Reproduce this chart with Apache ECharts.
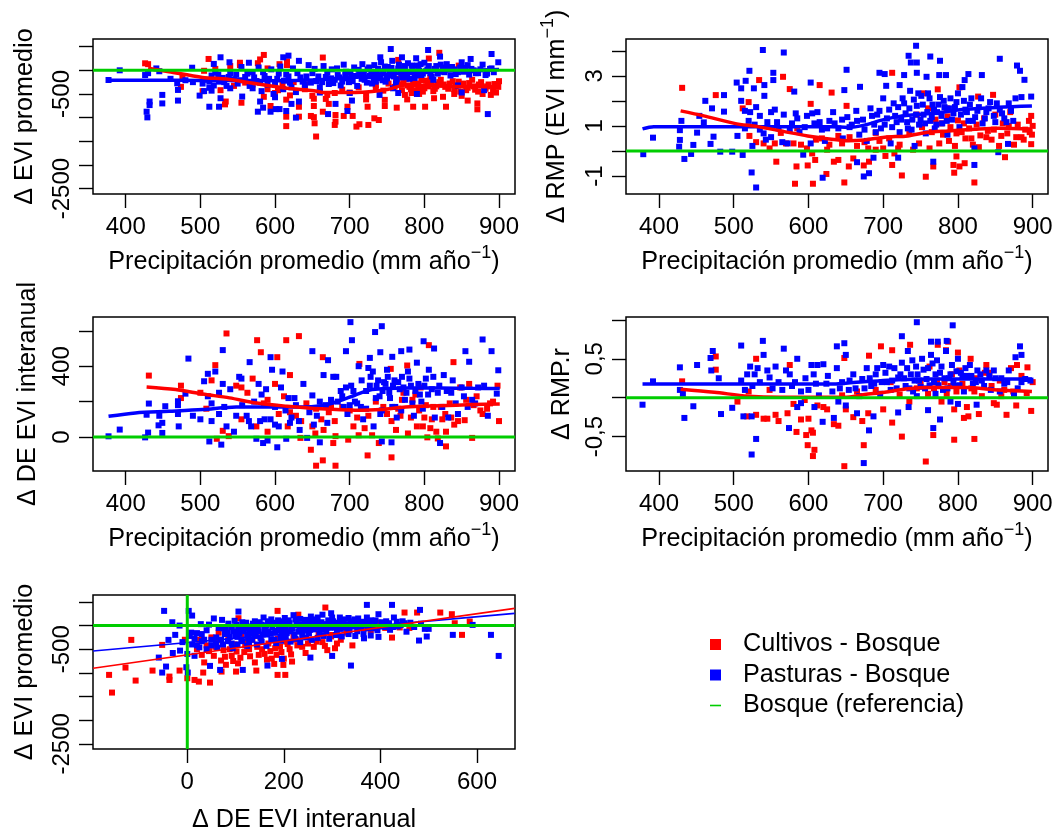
<!DOCTYPE html>
<html>
<head>
<meta charset="utf-8">
<style>html,body{margin:0;padding:0;background:#fff}#chart{width:1055px;height:828px}</style>
<script src="https://cdn.jsdelivr.net/npm/echarts@6/dist/echarts.min.js"></script>
</head>
<body>
<div id="chart"></div>
<script>
// panel 1: delta EVI promedio vs precipitacion
var eviPrecipRed = [[426,148],[430,130],[511,240],[553,160],[553,110],[585,325],[580,230],[577,150],[616,110],[606,130],[664,270],[820,370],[806,250],[765,220],[846,100],[616,190],[590,40],[540,90],[520,30],[505,-10],[474,-350],[476,-120],[503,-440],[527,-420],[545,-330],[570,-300],[590,-400],[585,-560],[600,-480],[604,-420],[615,-620],[620,-530],[640,-400],[650,-540],[652,-600],[660,-450],[670,-520],[680,-480],[690,-410],[700,-470],[712,-360],[722,-500],[735,-380],[615,-980],[615,-1180],[655,-1400],[653,-1120],[648,-965],[652,-990],[681,-945],[681,-1085],[680,-1155],[692,-965],[704,-965],[697,-770],[713,-1140],[709,-1190],[725,-1155],[733,-1015],[739,-1050],[724,-770],[747,-755],[763,-790],[785,-770],[801,-770],[829,-770],[871,-700],[871,-825],[858,-640],[664,-875],[672,-710],[668,-605],[652,-755],[632,-770],[632,-980],[594,-755],[555,-685],[534,-660],[533,-720],[722,-615],[747,-625],[777,-615],[813,-590],[825,-560],[840,-500],[850,-540],[762,-240],[768,-300],[775,-180],[780,-350],[785,-260],[788,-420],[792,-330],[796,-210],[800,-380],[804,-290],[808,-160],[812,-440],[816,-340],[820,-250],[826,-300],[832,-390],[838,-230],[842,-330],[848,-450],[852,-280],[858,-370],[864,-200],[868,-410],[873,-300],[878,-500],[884,-340],[889,-520],[894,-290],[896,-470],[899,-350],[900,-230],[760,-350],[770,-420],[774,-520],[783,-480],[793,-500],[752,-280],[745,-430],[735,-310],[610,-300],[625,-250],[640,-300],[575,-230],[560,-260],[764,-180],[772,-270],[778,-320],[782,-400],[786,-210],[790,-280],[794,-380],[798,-450],[802,-220],[806,-340],[810,-260],[814,-390],[818,-300],[822,-200],[828,-350],[834,-280],[840,-400],[846,-240],[850,-310],[856,-420],[860,-270],[866,-340],[872,-450],[876,-250],[882,-390],[886,-300],[892,-410],[898,-290]];
var eviPrecipBlue = [[428,-875],[429,-995],[432,-660],[432,-735],[449,-700],[449,-520],[377,-205],[392,0],[426,-100],[430,-60],[441,40],[445,-20],[470,-415],[470,-640],[469,-275],[489,55],[499,-535],[512,-770],[525,-770],[527,-590],[527,275],[518,135],[539,170],[565,160],[556,-555],[577,-875],[580,-660],[584,-790],[594,-875],[601,-820],[606,-820],[615,-860],[628,-1000],[622,-710],[632,-660],[618,310],[611,275],[632,200],[671,-925],[681,-710],[697,-860],[703,-640],[755,450],[805,430],[770,275],[741,275],[789,255],[821,290],[890,345],[899,170],[862,240],[885,-925],[845,-320],[460,-180],[480,-210],[490,-250],[503,-280],[510,-200],[512,-370],[515,-110],[520,-50],[525,-240],[530,-160],[535,-330],[540,-60],[545,-190],[550,-280],[555,70],[560,-140],[566,-330],[570,-40],[575,-230],[578,60],[582,-440],[586,-120],[590,-300],[595,20],[598,-500],[603,-180],[607,80],[611,-400],[615,-90],[620,-260],[624,40],[628,-460],[634,-150],[640,-310],[645,110],[650,-60],[655,-230],[660,-360],[665,90],[668,-140],[672,-290],[676,20],[680,-200],[684,-100],[688,-320],[692,120],[695,-30],[699,-250],[702,-150],[706,60],[710,-330],[714,-70],[717,130],[720,-200],[724,20],[727,-120],[730,-280],[733,110],[736,-50],[739,-170],[742,170],[745,-20],[748,-240],[751,70],[754,-110],[757,200],[760,-30],[763,-190],[766,120],[769,-70],[772,10],[775,-140],[778,150],[781,-40],[784,40],[787,-160],[790,100],[793,-10],[796,-100],[800,160],[804,20],[808,-60],[812,-200],[816,90],[820,-30],[825,60],[830,130],[835,-110],[840,20],[845,-40],[850,170],[855,50],[860,-90],[866,0],[872,-60],[878,120],[882,-100],[888,30],[893,-40],[758,-380],[740,-520],[765,-480],[790,-500],[850,-470],[880,-420],[660,-470],[700,-480],[540,-380],[505,-440],[515,-430],[570,-380],[600,-570],[512,-240],[518,-320],[524,-90],[532,-250],[538,-140],[548,-90],[553,-210],[563,-70],[572,-150],[580,-260],[584,-40],[592,-180],[600,-310],[605,-70],[612,-220],[618,-130],[622,-360],[630,-60],[637,-240],[642,-130],[648,-260],[653,30],[658,-130],[663,-250],[670,-50],[675,-170],[678,-270],[683,40],[686,-150],[690,-240],[694,-90],[697,-170],[701,-40],[704,-230],[708,-120],[712,10],[716,-180],[719,-60],[723,-260],[726,60],[729,-30],[732,-170],[735,-240],[738,30],[741,-100],[744,-210],[747,80],[750,-170],[753,-40],[756,50],[759,-130],[762,-280],[765,40],[768,-20],[771,-150],[774,90],[777,-60],[780,-180],[783,100],[786,-30],[789,-110],[792,20],[795,130],[798,-70],[802,-20],[806,90],[810,-130],[814,30],[818,-70],[822,120],[827,-40],[832,20],[837,70],[842,-80],[848,60],[853,-30],[858,110],[863,30],[869,-60],[875,20],[884,-70],[890,40]];
var eviPrecipBlueLine = [[377,-210],[450,-210],[500,-215],[550,-215],[600,-220],[650,-205],[700,-150],[750,-90],[800,-30],[850,-5],[900,15]];
var eviPrecipRedLine = [[430,45],[458,-30],[503,-150],[535,-185],[571,-275],[616,-380],[652,-430],[665,-470],[707,-470],[730,-450],[752,-400],[775,-310],[820,-330],[865,-345],[901,-345]];

// panel 2: delta RMP vs precipitacion
var rmpPrecipRed = [[431,2.52],[476,2.23],[534,2.83],[566,2.96],[575,2.47],[615,2.63],[603,1.88],[651,1.8],[631,2.33],[712,3.12],[754,2.3],[773,2.46],[802,2.54],[827,2.17],[847,2.24],[582,-1.31],[606,-1.31],[648,-1.26],[725,-.98],[757,-1.03],[795,-.87],[822,-1.26],[624,-.92],[584,-.62],[599,-.58],[557,-.43],[609,-.36],[634,-.43],[640,-.36],[654,-.62],[674,-.58],[681,-.43],[703,-.2],[712,-.56],[767,-.62],[794,-.56],[802,-.62],[809,-.49],[798,-.22],[863,-.25],[898,.27],[512,1.7],[520,1.95],[521,.6],[530,.35],[540,.3],[548,.1],[555,.3],[563,.72],[570,.3],[580,.3],[590,.25],[598,.1],[605,-.1],[618,.5],[628,.25],[640,.6],[655,.55],[665,.2],[675,.35],[690,.72],[700,.1],[708,.5],[722,.25],[735,.7],[748,.3],[752,.95],[762,.1],[770,1.25],[775,.3],[780,.65],[786,1.38],[790,.95],[796,.2],[800,1.22],[805,.75],[810,.5],[815,.9],[820,.25],[825,1.05],[830,.62],[835,1.3],[840,.8],[845,.45],[850,1.45],[855,.2],[860,1.1],[866,.7],[870,1.55],[875,.25],[880,1.05],[885,.55],[890,.85],[895,1.2],[899,.65],[898,1.4],[760,1.7],[785,1.7],[745,1.45],[720,.1],[690,.05],[585,.9],[610,.45],[625,.05],[645,.3],[660,-.3],[680,.1],[695,.4],[715,-.1],[740,.05],[765,.75],[778,1.1],[788,.4],[798,.7],[808,1.1],[818,.5],[828,.15],[838,.55],[848,.85],[858,.6],[868,1],[878,.55],[888,.45],[896,.75],[900,1]];
var rmpPrecipBlue = [[539,4.03],[567,3.93],[521,3.2],[553,3.12],[553,2.83],[651,3.24],[744,4.2],[734,3.8],[737,3.53],[745,3.53],[763,3.77],[776,3.6],[856,3.68],[879,3.41],[883,3.2],[889,2.84],[695,3.12],[702,3.07],[728,3.03],[745,3.12],[758,2.96],[775,3.03],[784,3.03],[814,3.07],[832,3.03],[809,2.83],[603,2.73],[648,2.43],[669,2.56],[704,2.6],[722,2.63],[516,2.8],[504,2.73],[510,2.5],[527,2.5],[541,2.63],[581,2.37],[541,2.2],[487,2.23],[462,2],[471,1.7],[487,1.57],[454,1.4],[430,1.2],[428,.83],[428,.44],[427,.17],[434,-.32],[443,-.12],[446,.24],[379,-.13],[392,.53],[451,.73],[460,1.14],[473,.57],[469,.28],[482,-.03],[498,-.03],[512,-.16],[524,-.86],[530,-1.46],[619,-1.07],[681,-.89],[674,-1.02],[665,-.45],[687,-.27],[720,-.27],[767,-.43],[822,-.56],[822,.1],[854,-.05],[867,.28],[898,2.17],[885,2.15],[877,2.1],[505,.6],[510,2],[515,1.6],[520,1.2],[525,.2],[530,1.75],[535,1.4],[540,.7],[545,1.15],[550,.55],[555,1.65],[560,.9],[567,1.45],[572,.3],[578,1.1],[583,1.5],[588,.75],[593,-.15],[598,1.4],[603,.3],[608,1.1],[612,1.55],[618,.85],[622,.4],[628,1.2],[633,1.55],[640,.9],[646,.5],[652,1.35],[658,1.05],[664,1.6],[668,.65],[673,1.25],[678,.4],[683,1.7],[688,1.05],[692,1.45],[697,.9],[700,2.1],[705,1.3],[710,.3],[714,1.9],[718,1.15],[722,.75],[726,2.1],[730,1.5],[733,.9],[736,2.4],[739,1.25],[742,.2],[745,1.8],[748,1.05],[751,2.2],[754,1.45],[757,.7],[760,2.3],[763,1.2],[766,1.85],[769,.9],[772,1.55],[776,2.15],[779,1.1],[782,1.75],[786,.65],[790,2.1],[794,1.5],[798,1.95],[802,.95],[806,2.55],[810,1.65],[814,1.2],[818,2.1],[823,1.35],[828,1.75],[833,1.1],[838,1.55],[843,1.95],[850,1.15],[856,1.65],[862,1.3],[868,1.9],[874,1.2],[515,.9],[522,1.55],[528,1.05],[535,.85],[543,.45],[550,1.55],[558,1.15],[565,.35],[575,.85],[585,1.3],[595,.95],[605,1.5],[615,1.15],[625,.9],[635,1.1],[645,1.25],[655,.95],[665,1.2],[675,.85],[685,1.4],[690,.75],[695,1.6],[702,1.05],[708,1.65],[712,.95],[716,1.4],[720,1.75],[724,1.25],[728,1.9],[732,1.15],[735,1.7],[738,.85],[741,2.05],[744,1.45],[747,2.3],[750,1.25],[753,1.85],[756,1.1],[759,1.55],[762,2.1],[765,1.35],[768,1.65],[771,1.05],[774,1.85],[778,1.4],[781,2],[785,1.2],[788,1.7],[792,1.25],[796,1.75],[800,2.3],[804,1.45],[808,2],[812,1.55],[816,1.85],[820,1.2],[826,1.6],[831,2.1],[836,1.3],[841,1.7],[848,1.4],[852,1.9],[859,1.5],[865,1.15],[871,1.6]];
var rmpPrecipBlueLine = [[378,.88],[393,.97],[451,.97],[500,.97],[541,.97],[586,.97],[631,.97],[653,.94],[675,1.03],[698,1.23],[720,1.37],[765,1.5],[810,1.66],[854,1.74],[899,1.79]];
var rmpPrecipRedLine = [[429,1.6],[460,1.4],[501,1.1],[532,.97],[563,.8],[599,.6],[631,.47],[653,.41],[675,.44],[702,.55],[733,.6],[756,.73],[787,.8],[823,.87],[854,.91],[899,.88]];

// panel 3: delta DE EVI interanual vs precipitacion
var dePrecipRed = [[431,347],[535,585],[576,547],[615,547],[632,570],[581,479],[603,451],[520,406],[664,451],[806,519],[713,413],[839,423],[777,404],[755,385],[655,-162],[664,-132],[681,-162],[724,-104],[756,-115],[648,-72],[829,-53],[739,-34],[678,-34],[681,5],[474,290],[474,220],[500,250],[508,160],[515,320],[522,-10],[530,35],[538,5],[548,290],[555,100],[563,250],[570,330],[575,60],[585,190],[590,30],[600,300],[605,130],[612,230],[617,60],[620,350],[628,120],[634,-5],[642,190],[650,60],[654,20],[662,100],[672,140],[680,90],[690,170],[698,-15],[705,60],[712,10],[720,50],[725,120],[735,200],[745,170],[756,90],[762,40],[768,120],[772,250],[778,20],[784,210],[790,60],[795,280],[800,110],[804,-2],[808,50],[812,170],[818,-8],[824,100],[829,30],[834,190],[840,70],[848,280],[854,95],[860,300],[864,-5],[870,230],[878,130],[884,160],[892,200],[898,290],[900,90],[555,280],[590,210],[620,140],[635,90],[655,160],[665,40],[675,170],[700,150],[710,110],[730,10],[750,130],[765,160],[770,210],[782,110],[788,240],[793,150],[798,60],[802,180],[810,100],[816,30],[822,170],[828,130],[836,110],[845,90],[856,210],[866,180],[875,150],[888,190]];
var dePrecipBlue = [[701,649],[743,626],[734,593],[703,547],[799,541],[878,551],[530,491],[650,485],[695,485],[741,479],[769,485],[780,494],[813,500],[855,485],[890,485],[484,443],[566,423],[594,451],[671,434],[727,447],[757,453],[860,425],[899,377],[377,4],[392,42],[426,-2],[431,189],[428,126],[453,174],[470,202],[470,180],[510,357],[505,315],[444,66],[449,80],[449,23],[471,60],[528,-43],[603,-58],[743,-25],[756,-30],[821,-34],[512,-25],[584,-34],[430,25],[445,120],[470,130],[480,245],[490,120],[500,100],[510,230],[515,190],[520,370],[525,130],[530,300],[535,60],[540,270],[545,30],[552,340],[556,180],[562,120],[568,60],[575,-10],[578,300],[582,240],[586,100],[590,-20],[596,380],[600,170],[605,60],[610,370],[615,-10],[618,220],[622,110],[628,180],[633,40],[638,300],[643,-5],[650,235],[656,120],[660,-30],[665,350],[670,80],[675,210],[682,340],[688,260],[692,170],[697,130],[702,290],[707,200],[712,400],[715,170],[718,100],[722,260],[725,390],[728,340],[732,60],[736,290],[740,230],[743,150],[746,310],[750,380],[753,250],[757,170],[760,320],[763,110],[767,270],[770,340],[774,210],[778,370],[782,290],[786,120],[790,420],[794,240],[798,160],[802,330],[806,380],[810,270],[814,110],[820,290],[826,350],[832,110],[838,320],[845,130],[853,230],[858,170],[864,210],[872,280],[880,290],[885,120],[897,245],[515,90],[525,250],[532,170],[548,120],[555,330],[565,90],[572,200],[580,90],[588,270],[594,100],[600,70],[608,280],[614,150],[620,80],[626,220],[632,90],[646,140],[652,70],[660,200],[668,180],[678,340],[684,200],[690,230],[695,280],[700,180],[705,260],[710,190],[716,320],[722,160],[727,290],[731,370],[735,220],[738,320],[741,130],[744,260],[748,300],[751,340],[754,220],[758,290],[761,170],[765,310],[769,150],[772,280],[776,250],[780,330],[784,190],[788,260],[792,300],[796,200],[800,290],[805,240],[812,340],[818,250],[824,170],[830,260],[836,250],[842,190],[850,280],[868,190]];
var dePrecipBlueLine = [[377,117],[413,136],[458,145],[503,155],[548,170],[593,170],[631,170],[662,177],[685,202],[707,236],[730,268],[775,277],[820,277],[865,275],[901,274]];
var dePrecipRedLine = [[428,283],[467,268],[503,243],[539,221],[575,192],[616,174],[661,159],[707,151],[742,155],[775,170],[820,177],[865,183],[901,187]];

// panel 4: delta RMP.r vs precipitacion
var rmprPrecipRed = [[648,-.88],[757,-.82],[606,-.75],[608,-.67],[599,-.61],[674,-.61],[725,-.5],[795,-.54],[822,-.53],[767,-.48],[597,-.48],[604,-.42],[606,-.45],[584,-.44],[640,-.36],[712,-.32],[697,.66],[712,.61],[736,.68],[787,.72],[773,.68],[800,.58],[817,.5],[784,.61],[681,.54],[648,.51],[476,.53],[476,.36],[431,.21],[530,.5],[575,.42],[893,.39],[879,.42],[838,.42],[505,-.05],[520,.08],[518,-.24],[530,-.22],[545,-.27],[560,-.3],[556,-.22],[572,-.2],[590,-.28],[600,-.27],[612,-.1],[625,-.15],[634,-.34],[650,-.15],[660,-.25],[672,-.3],[680,-.2],[700,-.15],[722,.04],[735,-.05],[750,.2],[762,.4],[772,.22],[778,-.05],[785,.05],[790,.15],[795,-.15],[802,.35],[808,-.26],[812,-.12],[818,.12],[824,.25],[828,-.21],[836,.32],[845,.15],[852,-.09],[858,.02],[865,-.22],[871,.38],[878,-.1],[885,.28],[892,.06],[898,-.17],[900,.2],[540,-.27],[548,.1],[710,.2],[760,.05],[580,-.08],[595,-.03],[620,-.12],[645,.03],[665,.08],[690,.1],[745,.12],[768,.12],[782,.2],[792,.3],[798,.08],[806,.18],[814,-.24],[822,.08],[832,.02],[842,.32],[848,-.07],[856,.22],[862,.1],[874,.08]];
var rmprPrecipBlue = [[745,.97],[793,.93],[725,.79],[539,.73],[510,.67],[648,.7],[638,.66],[567,.63],[785,.73],[773,.72],[764,.72],[883,.66],[885,.55],[877,.52],[472,.6],[469,.51],[428,.39],[451,.42],[378,-.09],[392,.21],[434,-.26],[446,-.11],[483,-.21],[498,-.13],[513,-.24],[524,-.24],[530,-.53],[524,-.73],[574,-.39],[619,-.31],[634,-.26],[681,-.42],[674,-.84],[665,-.2],[687,-.24],[720,-.19],[734,-.12],[760,-.16],[767,-.39],[776,-.28],[428,.1],[432,.05],[470,.35],[480,.25],[510,.22],[515,.1],[522,.4],[528,.3],[535,.2],[540,.55],[545,.35],[552,.12],[556,.4],[565,.1],[570,.35],[578,.15],[585,.5],[590,.08],[596,.25],[604,.42],[610,.18],[614,.03],[620,.43],[626,.28],[632,.08],[638,.38],[645,.2],[650,.55],[654,.1],[660,.3],[668,.02],[672,.24],[678,.38],[684,.15],[690,.3],[696,.05],[700,.42],[705,.2],[710,.1],[715,.38],[720,.26],[725,.45],[730,.15],[733,.6],[737,.3],[740,.08],[744,.4],[748,.22],[752,.5],[756,.12],[760,.38],[764,.55],[768,.2],[772,.48],[776,.32],[780,.1],[784,.6],[788,.25],[792,.42],[796,.15],[800,.5],[804,.32],[808,.08],[812,.28],[816,.42],[820,.18],[826,.35],[832,.22],[838,.35],[844,.1],[850,.25],[856,.08],[862,.18],[868,.35],[875,.05],[885,.2],[897,.22],[770,.05],[745,.02],[800,-.08],[790,-.05],[825,-.09],[640,-.05],[650,-.1],[585,-.12],[590,-.07],[608,-.12],[518,.3],[525,.15],[532,.38],[548,.26],[560,.2],[575,.3],[582,.2],[600,.1],[607,.3],[612,.42],[624,.18],[642,.12],[655,.22],[663,.12],[675,.12],[682,.25],[688,.18],[692,.38],[698,.2],[703,.32],[708,.4],[712,.22],[718,.12],[723,.3],[728,.25],[732,.38],[735,.12],[739,.48],[742,.22],[746,.3],[750,.14],[754,.36],[758,.24],[762,.16],[766,.44],[770,.3],[774,.16],[778,.4],[782,.25],[786,.12],[790,.3],[794,.2],[798,.34],[802,.16],[806,.28],[810,.38],[818,.28],[824,.2],[830,.3],[835,.15],[842,.28],[848,.35],[858,.25],[866,.2],[880,.12],[890,.24]];
var rmprPrecipBlueLine = [[378,.175],[451,.175],[541,.175],[631,.175],[653,.19],[720,.23],[765,.24],[810,.24],[854,.24],[899,.24]];
var rmprPrecipRedLine = [[429,.11],[474,.07],[519,.02],[563,.005],[608,.005],[648,.005],[675,.04],[702,.07],[733,.115],[765,.13],[810,.13],[854,.1],[899,.08]];

// panel 5: delta EVI promedio vs delta DE EVI interanual
var eviDeRed = [[-156,-1417],[-162,-1043],[-128,-888],[-107,-1163],[-116,-303],[-72,-952],[-37,-1079],[-37,-1150],[-52,-409],[-16,-952],[0,-1114],[15,-1150],[24,-1185],[47,-1206],[33,-994],[-5,-300],[71,-973],[101,-973],[143,-952],[187,-1043],[203,-1043],[199,-832],[180,-811],[217,-761],[106,155],[187,310],[286,381],[524,275],[548,240],[450,275],[476,275],[554,49],[569,-197],[585,85],[424,-254],[20,-500],[25,-300],[35,-780],[40,-420],[50,-250],[55,-640],[60,-350],[65,-150],[70,-740],[75,-520],[80,-830],[85,-300],[92,-640],[98,-400],[105,-800],[112,-200],[118,-560],[125,-330],[130,-650],[140,-780],[145,-450],[152,-250],[160,-600],[168,-380],[175,-700],[182,-480],[188,-280],[195,-560],[205,-340],[212,-500],[220,-230],[228,-420],[235,-100],[245,-580],[255,-300],[262,-450],[272,-180],[280,-350],[290,-520],[298,-230],[306,-480],[318,-300],[330,-150],[342,-420],[365,-60],[380,-100],[395,60],[410,-50],[440,-40],[460,-50],[300,-200],[230,230],[30,-620],[45,-540],[58,-450],[68,-300],[78,-660],[88,-500],[95,-750],[102,-550],[110,-680],[120,-420],[128,-500],[135,-300],[148,-620],[155,-500],[165,-720],[172,-540],[178,-300],[185,-620],[192,-440],[200,-700],[208,-390],[215,-610],[225,-300],[238,-450],[250,-380],[268,-340],[285,-430],[310,-380]];
var eviDeBlue = [[-48,310],[3,310],[10,211],[106,296],[372,437],[424,437],[482,331],[645,-642],[629,-197],[591,14],[550,-197],[496,-232],[480,-317],[339,-846],[300,-642],[255,-677],[196,-705],[166,-846],[115,-938],[1,-994],[-2,-881],[-52,-994],[-44,-867],[-59,-677],[-39,-303],[-25,-197],[-31,70],[-16,0],[68,-938],[47,-853],[-30,-580],[-15,-530],[-10,-350],[0,-600],[5,-220],[10,-400],[15,-640],[20,-160],[25,-460],[28,30],[35,-300],[40,-100],[45,20],[50,-420],[55,150],[60,-250],[65,-50],[72,120],[78,-180],[85,40],[92,-380],[98,100],[104,-240],[110,-30],[116,-120],[122,60],[128,-350],[134,-160],[140,90],[146,-60],[152,-260],[158,170],[163,0],[168,-130],[174,130],[180,-300],[185,60],[190,-60],[196,-180],[202,160],[208,20],[214,-120],[220,220],[226,70],[232,-50],[238,-220],[244,120],[250,10],[256,190],[262,-80],[268,70],[274,-170],[280,230],[286,-30],[292,110],[298,260],[304,20],[310,-110],[316,170],[322,60],[328,-40],[334,160],[340,0],[346,130],[352,-120],[358,50],[365,-180],[372,170],[378,20],[384,-60],[390,110],[396,240],[404,-20],[412,90],[420,-90],[428,170],[436,-20],[446,90],[454,-130],[462,60],[470,-30],[484,40],[492,-70],[500,-70],[100,-200],[106,-90],[112,-300],[118,10],[124,-180],[130,-80],[136,40],[142,-220],[148,-120],[154,20],[160,-80],[165,-190],[170,60],[176,-40],[182,-150],[188,110],[193,-250],[198,0],[204,-90],[210,110],[216,-30],[222,-200],[228,10],[234,140],[240,-110],[246,50],[252,-160],[258,80],[264,-40],[270,170],[276,-80],[282,30],[288,-130],[294,70],[300,170],[306,-40],[312,60],[318,-70],[324,130],[330,30],[336,-100],[342,90],[348,20],[354,150],[360,-30],[366,80],[374,-60],[380,110],[388,30],[394,-100],[402,70],[410,-30],[418,50],[426,-30],[434,80],[442,10],[450,50],[60,-380],[70,-300],[80,-90],[88,-240],[96,-120],[30,-180],[15,-280],[8,-150],[75,-60],[84,-150],[92,-30],[102,20],[108,-170],[114,70],[120,-60],[126,-260],[132,-20],[138,-130],[144,-30],[150,70],[156,-190],[162,-40],[167,90],[172,-170],[178,30],[184,-110],[190,0],[195,-90],[200,90],[206,-160],[212,50],[218,-70],[224,130],[230,-130],[236,20],[242,-50],[248,100],[254,-90],[260,30],[266,130],[272,-30],[278,70],[284,-90],[290,20],[296,-40],[302,90],[308,-10],[314,-60],[320,90],[326,10],[332,-50],[338,60],[344,-20],[350,60],[356,-50],[362,10],[370,60],[376,-30],[20,-420],[30,-330],[40,-500],[50,-300],[62,-470],[74,-400],[84,-330],[94,-480],[104,-400],[114,-330],[124,-430],[134,-300],[144,-400],[154,-340],[164,-430],[174,-290],[184,-370],[194,-320],[204,-270],[214,-340],[224,-280],[234,-350],[246,-250],[258,-300],[270,-260],[282,-220],[294,-280],[308,-200],[320,-230],[334,-180],[348,-220],[366,-270],[380,-210],[396,-240]];
var eviDeBlueLine = [[-195,-538],[678,257]];
var eviDeRedLine = [[-195,-903],[678,363]];

// ticks and labels
var precipTicks = [400,500,600,700,800,900];
var eviTicks = [500,0,-500,-1000,-1500,-2000,-2500];
var eviLabels = [-500,-2500];
var rmpTicks = [4,3,2,1,0,-1];
var rmpLabels = [3,1,-1];
var deTicks = [600,400,200,0];
var deLabels = [400,0];
var rmprTicks = [1,.5,0,-.5];
var rmprLabels = [.5,-.5];
var deXTicks = [0,200,400,600];

var names = ['Cultivos - Bosque','Pasturas - Bosque','Bosque (referencia)'];
var RED = '#ff0000', BLUE = '#0000ff', GREEN = '#00cd00';
var precipTitle = '{t|Precipitación promedio (mm año}{s|−1}{t|)}';
var fontName = '"Liberation Sans", Arial, sans-serif';

var panels = [
    {box:[93,39,422,155], x:[356.2,921.4], y:[-2615,662], xt:precipTicks, yt:eviTicks, yl:eviLabels, xn:precipTitle, yn:'Δ EVI promedio', gap:55, xgap:50, red:eviPrecipRed, blue:eviPrecipBlue, rl:eviPrecipRedLine, bl:eviPrecipBlueLine},
    {box:[626,39,422,155], x:[355.9,920.5], y:[-1.72,4.47], xt:precipTicks, yt:rmpTicks, yl:rmpLabels, xn:precipTitle, yn:'{t|Δ RMP (EVI mm}{s|−1}{t|)}', gap:51, xgap:50, red:rmpPrecipRed, blue:rmpPrecipBlue, rl:rmpPrecipRedLine, bl:rmpPrecipBlueLine},
    {box:[93,317,422,154], x:[356.2,921.4], y:[-192,678], xt:precipTicks, yt:deTicks, yl:deLabels, xn:precipTitle, yn:'Δ DE EVI interanual', gap:52, xgap:50, red:dePrecipRed, blue:dePrecipBlue, rl:dePrecipRedLine, bl:dePrecipBlueLine},
    {box:[626,317,422,154], x:[355.9,920.5], y:[-.942,1.037], xt:precipTicks, yt:rmprTicks, yl:rmprLabels, xn:precipTitle, yn:'Δ RMP.r', gap:51, xgap:50, red:rmprPrecipRed, blue:rmprPrecipBlue, rl:rmprPrecipRedLine, bl:rmprPrecipBlueLine},
    {box:[93,595,422,154], x:[-195.3,678.8], y:[-2610,646], xt:deXTicks, yt:eviTicks, yl:eviLabels, xn:'Δ DE EVI interanual', yn:'Δ EVI promedio', gap:55, xgap:59, red:eviDeRed, blue:eviDeBlue, rl:eviDeRedLine, bl:eviDeBlueLine, thin:true}
];

var titleRich = {
    t:{fontSize:25.2, fontFamily:fontName, color:'#000'},
    s:{fontSize:18, fontFamily:fontName, color:'#000', padding:[0,0,18,0]}
};
var grids = [], xAxes = [], yAxes = [], series = [];
panels.forEach(function (p, i) {
    grids.push({left:p.box[0], top:p.box[1], width:p.box[2], height:p.box[3], show:true, borderColor:'#000', borderWidth:1.5, backgroundColor:'transparent', outerBoundsMode:'none'});
    xAxes.push({
        type:'value', gridIndex:i, min:p.x[0], max:p.x[1], position:'bottom',
        name:p.xn, nameLocation:'middle', nameGap:p.xgap, nameMoveOverlap:false,
        nameTextStyle:{fontSize:25.2, fontFamily:fontName, color:'#000', rich:titleRich},
        splitLine:{show:false}, axisLine:{show:false, onZero:false},
        axisTick:{show:true, length:14, customValues:p.xt, lineStyle:{color:'#000', width:1.4}},
        axisLabel:{show:true, customValues:p.xt, margin:21, fontSize:24, fontFamily:fontName, color:'#000', hideOverlap:false, showMinLabel:true, showMaxLabel:true}
    });
    yAxes.push({
        type:'value', gridIndex:i, min:p.y[0], max:p.y[1], position:'left',
        name:p.yn, nameLocation:'middle', nameRotate:90, nameGap:p.gap, nameMoveOverlap:false,
        nameTextStyle:{fontSize:25.2, fontFamily:fontName, color:'#000', rich:titleRich},
        splitLine:{show:false}, axisLine:{show:false, onZero:false},
        axisTick:{show:true, length:14, customValues:p.yt, lineStyle:{color:'#000', width:1.4}},
        axisLabel:{
            show:true, customValues:p.yl, rotate:90, margin:19, fontSize:24, fontFamily:fontName, color:'#000', hideOverlap:false,
            formatter:function (v) { return String(v).replace('.', ','); }
        }
    });
    series.push({name:names[0], type:'scatter', xAxisIndex:i, yAxisIndex:i, symbol:'rect', symbolSize:6, itemStyle:{color:RED, opacity:1}, data:p.red, z:2});
    series.push({name:names[1], type:'scatter', xAxisIndex:i, yAxisIndex:i, symbol:'rect', symbolSize:6, itemStyle:{color:BLUE, opacity:1}, data:p.blue, z:3});
    var w = p.thin ? 1.6 : 3.5;
    var sm = p.thin ? false : 0.3;
    series.push({name:names[1], type:'line', xAxisIndex:i, yAxisIndex:i, showSymbol:false, smooth:sm, lineStyle:{color:BLUE, width:w}, data:p.bl, z:4});
    series.push({name:names[0], type:'line', xAxisIndex:i, yAxisIndex:i, showSymbol:false, smooth:sm, lineStyle:{color:RED, width:w}, data:p.rl, z:5});
    series.push({name:names[2], type:'line', xAxisIndex:i, yAxisIndex:i, showSymbol:false, lineStyle:{color:GREEN, width:3}, itemStyle:{color:GREEN}, data:[[p.x[0],0],[p.x[1],0]], z:6});
    if (p.thin) {
        series.push({name:names[2], type:'line', xAxisIndex:i, yAxisIndex:i, showSymbol:false, lineStyle:{color:GREEN, width:3}, data:[[0,p.y[0]],[0,p.y[1]]], z:6});
    }
});

var option = {
    backgroundColor:'#fff',
    animation:false,
    tooltip:{show:false},
    legend:{
        left:710, top:632, padding:0, orient:'vertical', itemWidth:11, itemHeight:11, itemGap:5.5,
        selectedMode:false,
        textStyle:{fontSize:25.2, fontFamily:fontName, color:'#000', padding:[0,0,0,17]},
        data:[
            {name:names[0], icon:'rect', itemStyle:{color:RED}},
            {name:names[1], icon:'rect', itemStyle:{color:BLUE}},
            {name:names[2], icon:'path://M0 0H11V1.6H0Z', itemStyle:{color:GREEN}}
        ]
    },
    grid:grids, xAxis:xAxes, yAxis:yAxes, series:series
};
var chart = echarts.init(document.getElementById('chart'));
chart.setOption(option);
</script>
</body>
</html>
